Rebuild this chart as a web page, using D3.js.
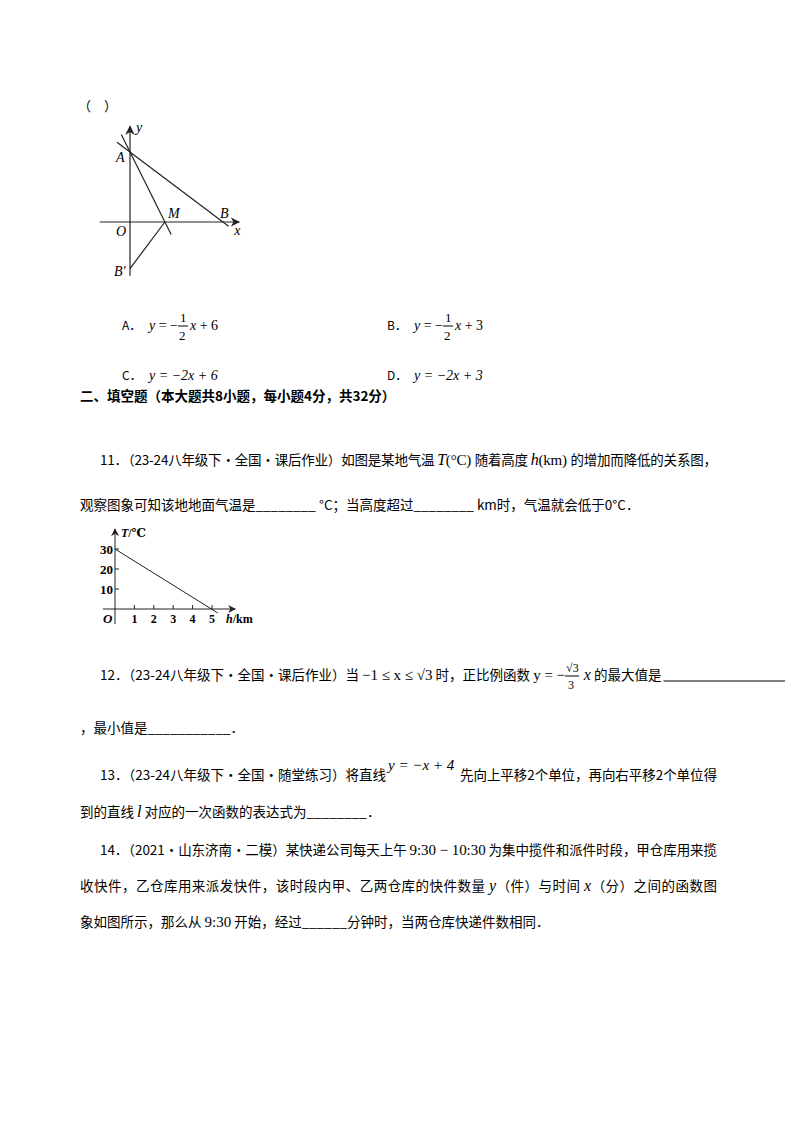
<!DOCTYPE html>
<html><head><meta charset="utf-8">
<script src="https://cdn.jsdelivr.net/npm/d3@7"></script>
<style>body{margin:0;background:#fff}</style>
</head><body>
<svg id="page" width="800" height="1132"></svg>
<script>
// figure 1: folding triangle
var fig1Points = [
  {name: 'A', x: 0, y: 3},
  {name: 'B', x: 4, y: 0},
  {name: 'M', x: 1.5, y: 0},
  {name: "B'", x: 0, y: -2}
];
// figure 2: temperature vs height
var tempH = [0, 5.3];
var tempT = [30, -2];
var hTicks = [1, 2, 3, 4, 5];
var tTicks = [10, 20, 30];

var options = [
  {label: 'A．', rest: 'x + 6', half: true},
  {label: 'B．', rest: 'x + 3', half: true},
  {label: 'C．', rest: 'y = −2x + 6', half: false},
  {label: 'D．', rest: 'y = −2x + 3', half: false}
];

var svg = d3.select('#page');
var cn = '"Noto Sans CJK SC", sans-serif';
var serif = '"Liberation Serif", "DejaVu Serif", serif';

svg.append('text').attr('x', 78).attr('y', 111).attr('font-family', cn).attr('font-size', 13).text('（　）');

// ---- figure 1
var x1 = d3.scaleLinear().domain([0, 4]).range([130, 223]);
var y1 = d3.scaleLinear().domain([0, 3]).range([222, 152]);
var g1 = svg.append('g').attr('stroke', '#222').attr('stroke-width', 1.2).attr('fill', 'none');
svg.append('defs').append('marker').attr('id', 'arr').attr('viewBox', '0 0 10 10')
  .attr('refX', 9).attr('refY', 5).attr('markerWidth', 8).attr('markerHeight', 8).attr('orient', 'auto')
  .append('path').attr('d', 'M0,0L10,5L0,10L3,5Z').attr('fill', '#222');
g1.append('line').attr('x1', x1(-1.3)).attr('x2', x1(4.7)).attr('y1', y1(0)).attr('y2', y1(0)).attr('marker-end', 'url(#arr)');
g1.append('line').attr('x1', x1(0)).attr('x2', x1(0)).attr('y1', y1(-2.3)).attr('y2', y1(4.1)).attr('marker-end', 'url(#arr)');
var pA = fig1Points[0], pB = fig1Points[1], pM = fig1Points[2], pB2 = fig1Points[3];
function ext(p, q, t) { return {x: p.x + (q.x - p.x) * t, y: p.y + (q.y - p.y) * t}; }
[[ext(pB, pA, 1.14), ext(pA, pB, 1.06)], [ext(pM, pA, 1.25), ext(pA, pM, 1.18)], [pB2, pM]].forEach(function(s) {
  g1.append('line').attr('x1', x1(s[0].x)).attr('y1', y1(s[0].y)).attr('x2', x1(s[1].x)).attr('y2', y1(s[1].y));
});
var lab1 = [
  {t: 'A', x: pA.x, y: pA.y, dx: -14, dy: 10},
  {t: 'B', x: pB.x, y: pB.y, dx: -3, dy: -4},
  {t: 'M', x: pM.x, y: pM.y, dx: 3, dy: -4},
  {t: "B'", x: pB2.x, y: pB2.y, dx: -16, dy: 7},
  {t: 'O', x: 0, y: 0, dx: -14, dy: 14},
  {t: 'x', x: 4.7, y: 0, dx: -5, dy: 13},
  {t: 'y', x: 0, y: 4.1, dx: 6, dy: 6}
];
svg.selectAll('.l1').data(lab1).join('text').attr('font-family', serif).attr('font-style', 'italic').attr('font-size', 14)
  .attr('x', function(d) { return x1(d.x) + d.dx; }).attr('y', function(d) { return y1(d.y) + d.dy; }).text(function(d) { return d.t; });

// ---- options
options.forEach(function(o, i) {
  var bx = i % 2 ? 387 : 122, by = i < 2 ? 330 : 380;
  svg.append('text').attr('x', bx).attr('y', by).attr('font-family', cn).attr('font-size', 12).text(o.label);
  var ex = bx + 27;
  if (o.half) {
    var t = svg.append('text').attr('x', ex).attr('y', by).attr('font-family', serif).attr('font-size', 14);
    t.append('tspan').attr('font-style', 'italic').text('y');
    t.append('tspan').text(' = −');
    svg.append('text').attr('x', ex + 31).attr('y', by - 8).attr('font-family', serif).attr('font-size', 13).text('1');
    svg.append('line').attr('x1', ex + 29).attr('x2', ex + 39).attr('y1', by - 4).attr('y2', by - 4).attr('stroke', '#000');
    svg.append('text').attr('x', ex + 30).attr('y', by + 10).attr('font-family', serif).attr('font-size', 13).text('2');
    svg.append('text').attr('x', ex + 41).attr('y', by).attr('font-family', serif).attr('font-size', 14).attr('font-style', 'italic').text('x')
      .append('tspan').attr('font-style', 'normal').text(o.rest.slice(1));
  } else {
    svg.append('text').attr('x', ex).attr('y', by).attr('font-family', serif).attr('font-size', 14).attr('font-style', 'italic').text(o.rest);
  }
});

// ---- body text
var lines = [
  {x: 80, y: 401, w: 0, bold: true, s: [['二、填空题（本大题共8小题，每小题4分，共32分）']]},
  {x: 100, y: 465, w: 617, s: [['11．（23-24八年级下·全国·课后作业）如图是某地气温 '], ['T', 'i'], ['(°C) ', 's'], ['随着高度 '], ['h', 'i'], ['(km) ', 's'], ['的增加而降低的关系图，']]},
  {x: 80, y: 510, w: 0, s: [['观察图象可知该地地面气温是________ °C；当高度超过________ km时，气温就会低于0°C．']]},
  {x: 100, y: 680, w: 0, s: [['12．（23-24八年级下·全国·课后作业）当 '], ['−1 ≤ x ≤ √3', 's'], [' 时，正比例函数 '], ['y = −', 's'], ['　 ', 's'], ['x', 'i'], [' 的最大值是 ']]},
  {x: 80, y: 733, w: 0, s: [['，最小值是___________．']]},
  {x: 100, y: 780, w: 0, s: [['13．（23-24八年级下·全国·随堂练习）将直线']]},
  {x: 460, y: 780, w: 257, s: [['先向上平移2个单位，再向右平移2个单位得']]},
  {x: 80, y: 817, w: 0, s: [['到的直线 '], ['l', 'i'], [' 对应的一次函数的表达式为________．']]},
  {x: 100, y: 855, w: 617, s: [['14．（2021·山东济南·二模）某快递公司每天上午 '], ['9:30 − 10:30', 's'], [' 为集中揽件和派件时段，甲仓库用来揽']]},
  {x: 80, y: 891, w: 637, s: [['收快件，乙仓库用来派发快件，该时段内甲、乙两仓库的快件数量 '], ['y', 'i'], ['（件）与时间 '], ['x', 'i'], ['（分）之间的函数图']]},
  {x: 80, y: 927, w: 0, s: [['象如图所示，那么从 '], ['9:30', 's'], [' 开始，经过______分钟时，当两仓库快递件数相同．']]}
];
var line12 = null;
lines.forEach(function(L, i) {
  var t = svg.append('text').attr('x', L.x).attr('y', L.y).attr('font-family', cn).attr('font-size', 13.5)
    .attr('font-weight', L.bold ? 'bold' : 'normal');
  if (L.w) t.attr('textLength', L.w).attr('lengthAdjust', 'spacing');
  L.s.forEach(function(seg) {
    var sp = t.append('tspan').text(seg[0]);
    if (seg[1] === 'i') sp.attr('font-family', serif).attr('font-style', 'italic').attr('font-size', 16);
    if (seg[1] === 's') sp.attr('font-family', serif).attr('font-size', 15);
  });
  if (i === 3) line12 = t;
});
// fraction √3/3 in line 12
var fx = line12.node().getSubStringLength(0, line12.text().indexOf('　'));
fx += 100;
svg.append('text').attr('x', fx + 1).attr('y', 672).attr('font-family', serif).attr('font-size', 12).text('√3');
svg.append('line').attr('x1', fx).attr('x2', fx + 14).attr('y1', 676).attr('y2', 676).attr('stroke', '#000');
svg.append('text').attr('x', fx + 3).attr('y', 689).attr('font-family', serif).attr('font-size', 12).text('3');
var end12 = 100 + line12.node().getComputedTextLength();
svg.append('line').attr('x1', end12 + 2).attr('x2', 785).attr('y1', 681).attr('y2', 681).attr('stroke', '#000');
svg.append('text').attr('x', 388).attr('y', 770).attr('font-family', serif).attr('font-size', 15).attr('font-style', 'italic').text('y = −x + 4');

// ---- figure 2
var x2 = d3.scaleLinear().domain([0, 5]).range([115, 212]);
var y2 = d3.scaleLinear().domain([0, 30]).range([609, 549]);
var g2 = svg.append('g');
g2.append('line').attr('x1', 103).attr('x2', x2(6.2)).attr('y1', y2(0)).attr('y2', y2(0)).attr('stroke', '#222').attr('marker-end', 'url(#arr)');
g2.append('line').attr('x1', x2(0)).attr('x2', x2(0)).attr('y1', 624).attr('y2', y2(40)).attr('stroke', '#222').attr('marker-end', 'url(#arr)');
g2.selectAll('.ht').data(hTicks).join('line').attr('stroke', '#222')
  .attr('x1', function(d) { return x2(d); }).attr('x2', function(d) { return x2(d); }).attr('y1', y2(0)).attr('y2', y2(0) - 4);
g2.selectAll('.tt').data(tTicks).join('line').attr('stroke', '#222')
  .attr('y1', function(d) { return y2(d); }).attr('y2', function(d) { return y2(d); }).attr('x1', x2(0)).attr('x2', x2(0) + 4);
g2.append('line').attr('stroke', '#222').attr('x1', x2(tempH[0])).attr('y1', y2(tempT[0])).attr('x2', x2(tempH[1])).attr('y2', y2(tempT[1]));
g2.selectAll('.hl').data(hTicks).join('text').attr('font-family', serif).attr('font-weight', 'bold').attr('font-size', 12)
  .attr('text-anchor', 'middle').attr('x', function(d) { return x2(d); }).attr('y', 623).text(function(d) { return d; });
g2.selectAll('.tl').data(tTicks).join('text').attr('font-family', serif).attr('font-weight', 'bold').attr('font-size', 13)
  .attr('text-anchor', 'end').attr('x', x2(0) - 2).attr('y', function(d) { return y2(d) + 5; }).text(function(d) { return d; });
g2.append('text').attr('font-family', serif).attr('font-weight', 'bold').attr('font-style', 'italic').attr('font-size', 13)
  .attr('x', 103).attr('y', 623).text('O');
g2.append('text').attr('font-family', serif).attr('font-weight', 'bold').attr('font-size', 12).attr('x', 121).attr('y', 537)
  .html('<tspan font-style="italic">T</tspan>/℃');
g2.append('text').attr('font-family', serif).attr('font-weight', 'bold').attr('font-size', 12).attr('x', 226).attr('y', 623)
  .html('<tspan font-style="italic">h</tspan>/km');
</script>
</body></html>
